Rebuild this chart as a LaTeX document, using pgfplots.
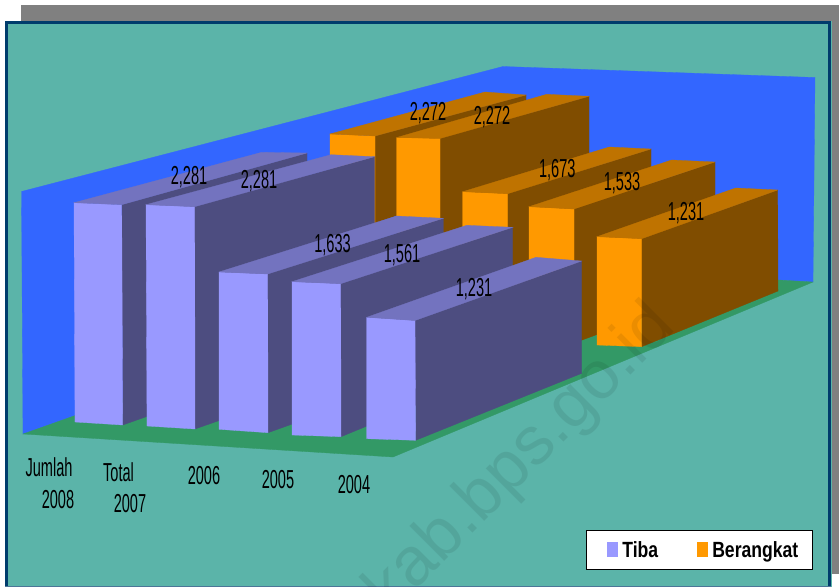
\documentclass[border=0pt]{standalone}
\usepackage{pgfplots}
\pgfplotsset{compat=1.18}
\usepackage{fontspec}
\setmainfont{Liberation Sans}
\newfontfamily\narrowf[FakeStretch=0.56]{Liberation Sans}
\newfontfamily\legendf[FakeStretch=0.8]{Liberation Sans}
\definecolor{panel}{HTML}{5BB4A9}
\definecolor{frameb}{HTML}{003C6C}
\definecolor{shadowg}{HTML}{808080}
\definecolor{wall}{HTML}{3366FF}
\definecolor{floorg}{HTML}{339966}
\definecolor{pf}{HTML}{9999FF}
\definecolor{ps}{HTML}{4D4D80}
\definecolor{pt}{HTML}{7373BF}
\definecolor{of}{HTML}{FF9900}
\definecolor{os}{HTML}{804D00}
\definecolor{ot}{HTML}{BF7300}
\newcommand{\face}[2]{\addplot[fill=#1,draw=#1,line width=0.3pt,forget plot] coordinates {#2} --cycle;}
\newcommand{\lab}[3]{\node[font=\fontsize{26}{26}\narrowf,inner sep=0pt,text=black,yshift=-1.5pt] at (axis cs:#1,#2) {#3};}
\newcommand{\cat}[3]{\node[font=\fontsize{26}{26}\narrowf,inner sep=0pt,text=black] at (axis cs:#1,#2) {#3};}
\begin{document}
\begin{tikzpicture}[x=1pt,y=1pt]
\clip (0,0) rectangle (839,587);
\begin{axis}[
  at={(0,0)},anchor=south west,
  scale only axis,width=839pt,height=587pt,
  xmin=0,xmax=839,ymin=0,ymax=587,y dir=reverse,
  hide axis,clip=false,
  legend style={at={(0.9687,0.029)},anchor=south east,draw=black,line width=0.8pt,fill=white,
    font=\fontsize{22}{22}\legendf\bfseries,legend columns=2,inner xsep=12pt,inner ysep=9pt,
    /tikz/every even column/.append style={column sep=28pt}},
  legend image code/.code={\path (0pt,0pt) (22pt,0pt);\fill[#1] (9pt,-7.5pt) rectangle (20pt,7.5pt);},
]
% frame
\face{shadowg}{(21,5)(839,5)(839,573)(21,573)}
\face{panel}{(5,21)(831,21)(831,587)(5,587)}
\addplot[draw=frameb,line width=3pt,forget plot] coordinates {(6.5,587)(6.5,22.5)(829.5,22.5)(829.5,587)};
\addplot[draw=frameb!70,line width=1pt,forget plot] coordinates {(5,586.5)(831,586.5)};
% walls and floor
\face{wall}{(21.5,191.5)(503,66.5)(503,264)(23,434)}
\face{wall}{(503,66.5)(815,77.5)(813,282)(503,264)}
\face{floorg}{(23,434)(393,457)(813,282)(503,264)}
% Berangkat bars, back to front
\face{os}{(375,136)(526,95)(526,170)(375,223)}
\face{of}{(330,134)(375,136)(375,223)(330,223)}
\face{ot}{(330,134)(375,136)(526,95)(485,92)}
\face{os}{(440,138.5)(589,96.3)(589,285)(440,337)}
\face{of}{(396.7,137.5)(440,138.5)(440,337)(396.7,335)}
\face{ot}{(396.7,137.5)(440,138.5)(589,96.3)(546.7,94.3)}
\face{os}{(507.7,193.7)(651,149)(651,287)(507.7,340)}
\face{of}{(462.7,191.7)(507.7,193.7)(507.7,340)(462.7,338)}
\face{ot}{(462.7,191.7)(507.7,193.7)(651,149)(609.3,147)}
\face{os}{(574,209)(715,162)(715,291)(574,343)}
\face{of}{(529,206.7)(574,209)(574,343)(529,341)}
\face{ot}{(529,206.7)(574,209)(715,162)(671.7,160)}
\face{os}{(641.7,238.7)(777.7,190)(778,291)(641.7,346.7)}
\face{of}{(597,236.7)(641.7,238.7)(641.7,346.7)(597,345)}
\face{ot}{(597,236.7)(641.7,238.7)(777.7,190)(735.7,188)}
% Tiba bars, back to front
\face{ps}{(121.7,204.7)(307,153)(307,360)(122.7,425)}
\face{pf}{(74,202.7)(121.7,204.7)(122.7,425)(75,422)}
\face{pt}{(74,202.7)(121.7,204.7)(307,153)(261.7,152.3)}
\face{ps}{(194.7,206.7)(374.5,156.7)(374.5,366)(195,429)}
\face{pf}{(146,204.7)(194.7,206.7)(195,429)(147,426)}
\face{pt}{(146,204.7)(194.7,206.7)(374.5,156.7)(331,154.7)}
\face{ps}{(267.7,274)(443.3,218.3)(443.3,370)(268,432.7)}
\face{pf}{(219,272)(267.7,274)(268,432.7)(219,429.3)}
\face{pt}{(219,272)(267.7,274)(443.3,218.3)(396.7,216)}
\face{ps}{(340.7,283.7)(512.7,227.3)(512.7,366)(341,436.7)}
\face{pf}{(292,281.7)(340.7,283.7)(341,436.7)(292,435)}
\face{pt}{(292,281.7)(340.7,283.7)(512.7,227.3)(466.7,225.3)}
\face{ps}{(415,320.5)(581.7,261)(581.7,373.3)(415.7,440.3)}
\face{pf}{(366.7,317.3)(415,320.5)(415.7,440.3)(366.7,438.7)}
\face{pt}{(366.7,317.3)(415,320.5)(581.7,261)(536,257.3)}
% legend
\addlegendimage{fill=pf,draw=none}
\addlegendentry{Tiba}
\addlegendimage{fill=of,draw=none}
\addlegendentry{Berangkat}
% value labels
\lab{189}{176}{2,281}\lab{259}{180}{2,281}\lab{332.5}{244}{1,633}\lab{402}{254}{1,561}\lab{474}{288}{1,231}
\lab{428}{112}{2,272}\lab{492}{116}{2,272}\lab{557.3}{169}{1,673}\lab{622}{182}{1,533}\lab{686}{212}{1,231}
% category labels
\cat{49}{467}{Jumlah}\cat{58}{500}{2008}\cat{118.5}{472}{Total}\cat{130}{504}{2007}
\cat{204}{476}{2006}\cat{278}{480}{2005}\cat{354}{485}{2004}
% watermark
\node[font=\fontsize{68}{68}\selectfont,text=black,opacity=0.08,rotate=45,inner sep=0pt,anchor=base east] at (axis cs:677,329) {kab.bps.go.id};
\end{axis}
\end{tikzpicture}
\end{document}
